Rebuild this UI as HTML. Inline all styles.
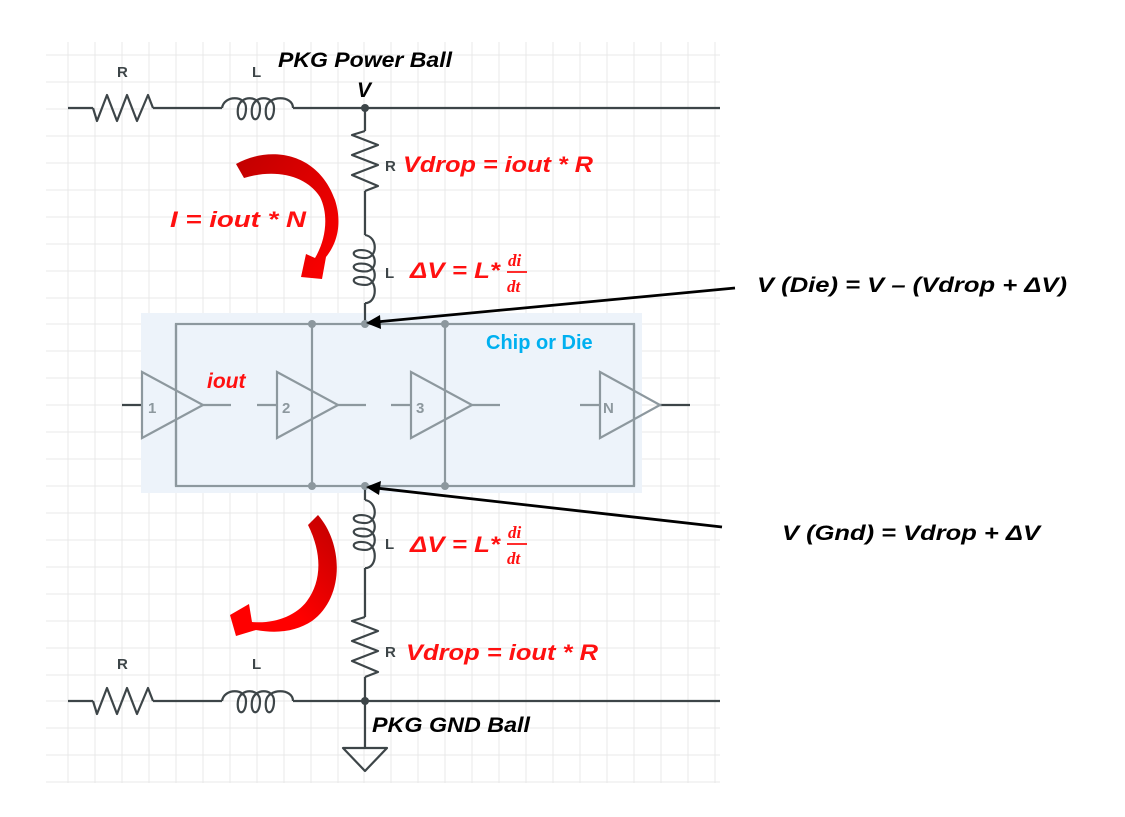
<!DOCTYPE html>
<html><head><meta charset="utf-8"><style>
html,body{margin:0;padding:0;background:#fff;}
svg{display:block;}
text{font-family:"Liberation Sans",sans-serif;}
.bi{font-weight:bold;font-style:italic;}
.red{fill:#ff1010;}
.lbl{font-size:15px;font-weight:bold;fill:#3d4548;}
.w{stroke:#3d4548;stroke-width:2.2;fill:none;stroke-linejoin:round;}
.g{stroke:#8d989e;stroke-width:2.2;fill:none;}
.fr{font-family:"Liberation Serif",serif;font-style:italic;font-weight:bold;font-size:17px;fill:#ff1010;}
</style></head><body>
<svg width="1125" height="817" viewBox="0 0 1125 817" xmlns="http://www.w3.org/2000/svg">
<defs>
<path id="coil" d="M0,0 C2,-13 24,-13 24,0 C24,15 14,15 16,0 C18,-13 38,-13 38,0 C38,15 28,15 30,0 C32,-13 52,-13 52,0 C52,15 42,15 44,0 C46,-13 71,-13 71,0"/>
<path id="res" d="M0,0 L4,13 L14,-13 L24,13 L34,-13 L44,13 L55,-13 L60,0"/>
<linearGradient id="rg1" x1="0" y1="0" x2="1" y2="1"><stop offset="0" stop-color="#c00000"/><stop offset="0.5" stop-color="#e00000"/><stop offset="1" stop-color="#ff0000"/></linearGradient>
<linearGradient id="rg2" x1="1" y1="0" x2="0" y2="1"><stop offset="0" stop-color="#c00000"/><stop offset="0.6" stop-color="#ff0000"/><stop offset="1" stop-color="#ff0000"/></linearGradient>
</defs>
<g stroke="#e8e8e8" stroke-width="1">
<line x1="68" y1="42" x2="68" y2="783"/><line x1="95" y1="42" x2="95" y2="783"/><line x1="122" y1="42" x2="122" y2="783"/><line x1="149" y1="42" x2="149" y2="783"/><line x1="176" y1="42" x2="176" y2="783"/><line x1="203" y1="42" x2="203" y2="783"/><line x1="230" y1="42" x2="230" y2="783"/><line x1="257" y1="42" x2="257" y2="783"/><line x1="284" y1="42" x2="284" y2="783"/><line x1="311" y1="42" x2="311" y2="783"/><line x1="338" y1="42" x2="338" y2="783"/><line x1="364" y1="42" x2="364" y2="783"/><line x1="391" y1="42" x2="391" y2="783"/><line x1="418" y1="42" x2="418" y2="783"/><line x1="445" y1="42" x2="445" y2="783"/><line x1="472" y1="42" x2="472" y2="783"/><line x1="499" y1="42" x2="499" y2="783"/><line x1="526" y1="42" x2="526" y2="783"/><line x1="553" y1="42" x2="553" y2="783"/><line x1="580" y1="42" x2="580" y2="783"/><line x1="607" y1="42" x2="607" y2="783"/><line x1="634" y1="42" x2="634" y2="783"/><line x1="661" y1="42" x2="661" y2="783"/><line x1="688" y1="42" x2="688" y2="783"/><line x1="715" y1="42" x2="715" y2="783"/>
<line x1="46" y1="55" x2="720" y2="55"/><line x1="46" y1="82" x2="720" y2="82"/><line x1="46" y1="109" x2="720" y2="109"/><line x1="46" y1="136" x2="720" y2="136"/><line x1="46" y1="163" x2="720" y2="163"/><line x1="46" y1="190" x2="720" y2="190"/><line x1="46" y1="217" x2="720" y2="217"/><line x1="46" y1="244" x2="720" y2="244"/><line x1="46" y1="271" x2="720" y2="271"/><line x1="46" y1="298" x2="720" y2="298"/><line x1="46" y1="324" x2="720" y2="324"/><line x1="46" y1="351" x2="720" y2="351"/><line x1="46" y1="378" x2="720" y2="378"/><line x1="46" y1="405" x2="720" y2="405"/><line x1="46" y1="432" x2="720" y2="432"/><line x1="46" y1="459" x2="720" y2="459"/><line x1="46" y1="486" x2="720" y2="486"/><line x1="46" y1="513" x2="720" y2="513"/><line x1="46" y1="540" x2="720" y2="540"/><line x1="46" y1="567" x2="720" y2="567"/><line x1="46" y1="594" x2="720" y2="594"/><line x1="46" y1="621" x2="720" y2="621"/><line x1="46" y1="648" x2="720" y2="648"/><line x1="46" y1="675" x2="720" y2="675"/><line x1="46" y1="701" x2="720" y2="701"/><line x1="46" y1="728" x2="720" y2="728"/><line x1="46" y1="755" x2="720" y2="755"/><line x1="46" y1="782" x2="720" y2="782"/>
</g>
<rect x="141" y="313" width="501" height="180" fill="#edf3fa"/>
<path class="w" d="M68,108 L93,108 M153,108 L222,108 M293,108 L720,108"/>
<use href="#res" class="w" transform="translate(93,108)"/>
<use href="#coil" class="w" transform="translate(222,108)"/>
<path class="w" d="M68,701 L93,701 M153,701 L222,701 M293,701 L720,701"/>
<use href="#res" class="w" transform="translate(93,701)"/>
<use href="#coil" class="w" transform="translate(222,701)"/>
<path class="w" d="M365,108 L365,131 M365,191 L365,235 M365,303 L365,324"/>
<use href="#res" class="w" transform="translate(365,131) rotate(90)"/>
<use href="#coil" class="w" transform="translate(365,235) rotate(90) scale(0.96,1)"/>
<path class="w" d="M365,486 L365,500 M365,568 L365,617 M365,677 L365,748"/>
<use href="#coil" class="w" transform="translate(365,500) rotate(90) scale(0.96,1)"/>
<use href="#res" class="w" transform="translate(365,617) rotate(90)"/>
<path class="w" d="M343,748 L387,748 L365,771 Z"/>
<circle cx="365" cy="108" r="4" fill="#3d4548"/>
<circle cx="365" cy="701" r="4" fill="#3d4548"/>
<rect class="g" x="176" y="324" width="458" height="162"/>
<path class="w" d="M122,405 L142,405 M660,405 L690,405"/>
<path class="g" d="M203,405 L231,405 M257,405 L277,405 M338,405 L366,405 M391,405 L411,405 M472,405 L500,405 M580,405 L600,405"/>
<path class="g" d="M142,372 L203,405 L142,438 Z" fill="#edf3fa"/>
<path class="g" d="M277,372 L338,405 L277,438 Z" fill="#edf3fa"/>
<path class="g" d="M411,372 L472,405 L411,438 Z" fill="#edf3fa"/>
<path class="g" d="M600,372 L660,405 L600,438 Z" fill="#edf3fa"/>
<path class="g" d="M176,324 L176,390 M176,420 L176,486 M312,324 L312,486 M445,324 L445,486 M634,324 L634,486"/>
<g fill="#8d989e">
<circle cx="312" cy="324" r="4"/><circle cx="365" cy="324" r="4"/><circle cx="445" cy="324" r="4"/>
<circle cx="312" cy="486" r="4"/><circle cx="365" cy="486" r="4"/><circle cx="445" cy="486" r="4"/>
</g>
<g font-size="15" font-weight="bold" fill="#8d989e">
<text x="148" y="413">1</text><text x="282" y="413">2</text><text x="416" y="413">3</text><text x="603" y="413">N</text>
</g>
<text x="486" y="349" font-size="20" font-weight="bold" fill="#00b0f0">Chip or Die</text>
<text class="lbl" x="117" y="77">R</text><text class="lbl" x="252" y="77">L</text>
<text class="lbl" x="117" y="669">R</text><text class="lbl" x="252" y="669">L</text>
<text class="lbl" x="385" y="171">R</text><text class="lbl" x="385" y="278">L</text>
<text class="lbl" x="385" y="549">L</text><text class="lbl" x="385" y="657">R</text>
<text class="bi" x="278" y="67" font-size="21" textLength="174" lengthAdjust="spacingAndGlyphs">PKG Power Ball</text>
<text class="bi" x="357" y="97" font-size="21">V</text>
<text class="bi" x="372" y="732" font-size="21" textLength="158" lengthAdjust="spacingAndGlyphs">PKG GND Ball</text>
<text class="bi" x="757" y="292" font-size="21" textLength="310" lengthAdjust="spacingAndGlyphs">V (Die) = V – (Vdrop + ΔV)</text>
<text class="bi" x="782" y="540" font-size="21" textLength="258" lengthAdjust="spacingAndGlyphs">V (Gnd) = Vdrop + ΔV</text>
<text class="bi red" x="403" y="172" font-size="22" textLength="190" lengthAdjust="spacingAndGlyphs">Vdrop = iout * R</text>
<text class="bi red" x="406" y="660" font-size="22" textLength="192" lengthAdjust="spacingAndGlyphs">Vdrop = iout * R</text>
<text class="bi red" x="170" y="227" font-size="22" textLength="136" lengthAdjust="spacingAndGlyphs">I = iout * N</text>
<text class="bi red" x="207" y="388" font-size="21">iout</text>
<text class="bi red" x="410" y="278" font-size="22" textLength="90" lengthAdjust="spacingAndGlyphs">ΔV = L*</text>
<text class="fr" x="508" y="266">di</text>
<line x1="507" y1="272" x2="527" y2="272" stroke="#ff1010" stroke-width="1.8"/>
<text class="fr" x="507" y="292">dt</text>
<text class="bi red" x="410" y="552" font-size="22" textLength="90" lengthAdjust="spacingAndGlyphs">ΔV = L*</text>
<text class="fr" x="508" y="538">di</text>
<line x1="507" y1="544" x2="527" y2="544" stroke="#ff1010" stroke-width="1.8"/>
<text class="fr" x="507" y="564">dt</text>
<line x1="735" y1="288" x2="376" y2="322" stroke="#000" stroke-width="2.8"/>
<path d="M366,323 L380,315 L381,329 Z" fill="#000"/>
<line x1="722" y1="527" x2="376" y2="488" stroke="#000" stroke-width="2.8"/>
<path d="M366,487 L381,481 L379,495 Z" fill="#000"/>
<path fill="url(#rg1)" d="M236,164 C270,145 318,152 335,200 C343,225 336,245 326,257 L322,279 L301,277 L306,254 L315,258 C326,240 329,215 320,197 C307,176 276,168 244,178 Z"/>
<path fill="url(#rg2)" d="M308,525 L318,515 C344,545 344,598 312,621 C297,631 278,634 256,630 L236,636 L230,615 L249,604 L252,622 C274,624 296,616 307,601 C321,582 323,555 308,525 Z"/>
</svg>
</body></html>
